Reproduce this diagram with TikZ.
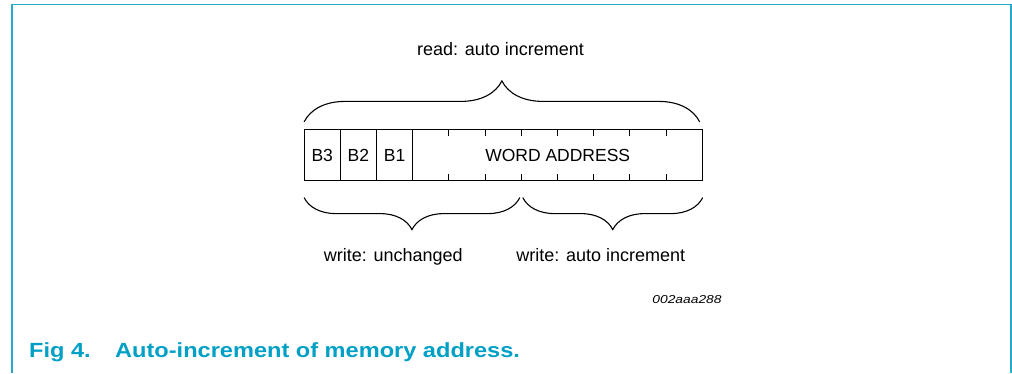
\documentclass[tikz,border=0pt]{standalone}
\usepackage{fontspec}
\setmainfont{Liberation Sans}
\newfontfamily\capfont[FakeStretch=1.15]{Liberation Sans}
\newfontfamily\tagfont[FakeStretch=1.2]{Liberation Sans}
\usepackage{tikz}
\usetikzlibrary{decorations.pathreplacing}
\usetikzlibrary{positioning}
\definecolor{figblue}{RGB}{0,160,198}
\definecolor{frameblue}{RGB}{40,170,205}
\tikzstyle{cell}=[draw=black, line width=1pt, minimum height=51.2pt, inner sep=0pt, outer sep=0pt, font=\fontsize{17.5}{21}\selectfont]
\tikzstyle{bitcell}=[cell, minimum width=36.2pt]
\tikzstyle{label_text}=[font=\fontsize{18}{22}\selectfont, anchor=base, inner sep=0pt]
\tikzstyle{brace_top}=[line width=1.1pt, decorate, decoration={brace, amplitude=41pt}]
\tikzstyle{brace_bottom}=[line width=1.1pt, decorate, decoration={brace, mirror, amplitude=32pt}]
\tikzstyle{frame_line}=[frameblue, line width=1.6pt]

\begin{document}
\begin{tikzpicture}[x=1pt,y=-1pt]
\useasboundingbox (0,0) rectangle (1012,373);
\draw[frame_line] (12,373) -- (12,4.5) -- (1011,4.5) -- (1011,373);
\node[bitcell] (b3) at (322.2,155){B3};
\node[bitcell, right=0pt of b3] (b2){B2};
\node[bitcell, right=0pt of b2] (b1){B1};
\node[cell, minimum width=290pt, right=0pt of b1] (word){WORD ADDRESS};
\foreach \i in {1,...,7}{
  \draw[line width=0.85pt] ([xshift=\i*36.2pt]word.north west) -- ++(0,7);
  \draw[line width=0.85pt] ([xshift=\i*36.2pt]word.south west) -- ++(0,-7);
}
\coordinate (t3) at ([xshift=108.6pt]word.south west);
\draw[brace_top] ([yshift=7.5pt]b3.north west) -- ([xshift=-3pt,yshift=7.5pt]word.north east);
\draw[brace_bottom] ([yshift=-17pt]b3.south west) -- ([xshift=-1.5pt,yshift=-17pt]t3);
\draw[brace_bottom] ([xshift=1.5pt,yshift=-17pt]t3) -- ([yshift=-17pt]word.south east);
\node[label_text] (read) at (500.5,55){read: auto increment};
\node[label_text] (wunch) at (393.3,261){write: unchanged};
\node[label_text] (wauto) at (600.8,261){write: auto increment};
\node[anchor=base, inner sep=0pt, font=\tagfont\itshape\fontsize{11.5}{14}\selectfont] (tag) at (687,303){002aaa288};
\node[anchor=base west, inner sep=0pt, text=figblue, font=\capfont\bfseries\fontsize{20.5}{24}\selectfont] (figno) at (29,357.5){Fig 4.};
\node[anchor=base west, inner sep=0pt, text=figblue, font=\capfont\bfseries\fontsize{20.5}{24}\selectfont] (figtext) at (115,357.5){Auto-increment of memory address.};
\end{tikzpicture}
\end{document}
